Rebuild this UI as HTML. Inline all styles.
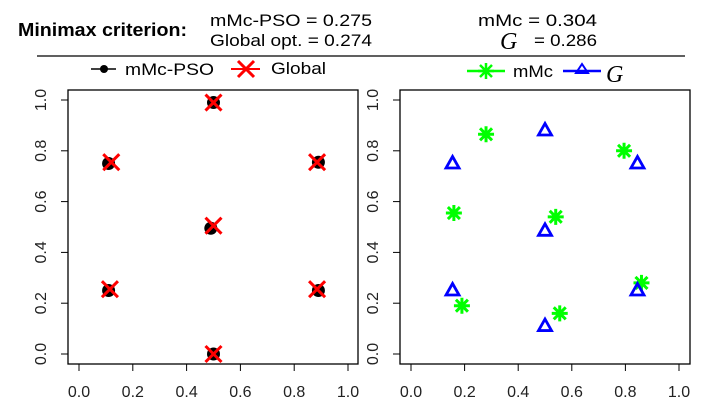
<!DOCTYPE html>
<html><head><meta charset="utf-8"><style>
body{margin:0;background:#fff}
svg{display:block;font-family:"Liberation Sans",sans-serif}
</style></head><body>
<svg id="c" width="709" height="419" viewBox="0 0 709 419">
<g font-size="17">
<text x="18" y="36" font-weight="bold" font-size="18" textLength="169" lengthAdjust="spacingAndGlyphs">Minimax criterion:</text>
<text x="210" y="26" textLength="162" lengthAdjust="spacingAndGlyphs">mMc-PSO  = 0.275</text>
<text x="210" y="46" textLength="162" lengthAdjust="spacingAndGlyphs">Global opt. = 0.274</text>
<text x="478" y="26" textLength="119" lengthAdjust="spacingAndGlyphs">mMc  = 0.304</text>
<text x="500" y="49" font-family="Liberation Serif,serif" font-style="italic" font-size="24">G</text>
<text x="534" y="46" textLength="63" lengthAdjust="spacingAndGlyphs">= 0.286</text>
<line x1="37" y1="56" x2="685" y2="56" stroke="#000" stroke-width="1.3"/>
</g>
<g font-size="17">
<line x1="91" y1="69" x2="116" y2="69" stroke="#000" stroke-width="1.5"/>
<circle cx="104" cy="69" r="4" fill="#000"/>
<text x="125" y="75" textLength="89" lengthAdjust="spacingAndGlyphs">mMc-PSO</text>
<line x1="231" y1="69" x2="260" y2="69" stroke="red" stroke-width="2"/>
<path d="M238 61L254 77M238 77L254 61" stroke="red" stroke-width="3"/>
<text x="271" y="74" textLength="55" lengthAdjust="spacingAndGlyphs">Global</text>
</g>
<g font-size="17">
<line x1="467" y1="71" x2="505" y2="71" stroke="#00ff00" stroke-width="2.5"/>
<path d="M486 63V79M478 71H494M480 65L492 77M480 77L492 65" stroke="#00ff00" stroke-width="2.5"/>
<text x="513" y="77" textLength="40" lengthAdjust="spacingAndGlyphs">mMc</text>
<line x1="563" y1="71" x2="601" y2="71" stroke="#0000ff" stroke-width="2.5"/>
<path d="M582 64L588 73H576Z" fill="none" stroke="#0000ff" stroke-width="2"/>
<text x="606" y="82" font-family="Liberation Serif,serif" font-style="italic" font-size="24">G</text>
</g>
<g id="p1"></g>
<g id="p2"></g>
</svg>
<script>
const psoX=[0.11,0.89,0.49,0.11,0.89,0.5,0.5];
const psoY=[0.75,0.755,0.495,0.25,0.25,0.99,0.0];
const globX=[0.12,0.885,0.5,0.115,0.885,0.5,0.5];
const globY=[0.755,0.755,0.505,0.255,0.255,0.99,0.0];
const mmcX=[0.28,0.795,0.16,0.54,0.86,0.19,0.555];
const mmcY=[0.865,0.8,0.555,0.54,0.28,0.19,0.16];
const gX=[0.5,0.155,0.845,0.5,0.155,0.845,0.5];
const gY=[0.88,0.75,0.75,0.485,0.25,0.25,0.11];
const ticks=[0,0.2,0.4,0.6,0.8,1.0];
const tickLabels=["0.0","0.2","0.4","0.6","0.8","1.0"];
const NS="http://www.w3.org/2000/svg";
function mk(p,t,a){const e=document.createElementNS(NS,t);for(const k in a)e.setAttribute(k,a[k]);p.appendChild(e);return e;}
function panel(g,box,x0,x1){
  const xs=v=>x0+v*(x1-x0), ys=v=>354+v*(100-354);
  const r=mk(g,'rect',{x:box[0],y:90,width:box[1]-box[0],height:274,fill:'none',stroke:'#000','stroke-width':1.3});
  
  
  mk(g,'line',{x1:xs(0),x2:xs(1),y1:364,y2:371-7,stroke:'#000'});
  mk(g,'line',{x1:box[0],x2:box[0],y1:ys(0),y2:ys(1),stroke:'#000'});
  ticks.forEach((t,i)=>{
    mk(g,'line',{x1:xs(t),x2:xs(t),y1:364,y2:371,stroke:'#000'});
    const tx=mk(g,'text',{x:xs(t),y:397,'text-anchor':'middle','font-size':16,fill:'#222'});tx.textContent=tickLabels[i];
    
    
    mk(g,'line',{x1:box[0],x2:box[0]-7,y1:ys(t),y2:ys(t),stroke:'#000'});
    const ty=mk(g,'text',{x:0,y:0,'text-anchor':'middle','font-size':16,fill:'#222',transform:`translate(${box[0]-22},${ys(t)}) rotate(-90)`});ty.textContent=tickLabels[i];
    
    
  });
  return [xs,ys];
}
const g1=document.getElementById('p1'),g2=document.getElementById('p2');
let [xa,ya]=panel(g1,[68,358],79,348);
psoX.forEach((v,i)=>{const c=mk(g1,'circle',{cx:xa(v),cy:ya(psoY[i]),r:6.5,fill:'#000'});

});
globX.forEach((v,i)=>{const x=xa(v),y=ya(globY[i]);const p=mk(g1,'path',{d:`M${x-8} ${y-8}L${x+8} ${y+8}M${x-8} ${y+8}L${x+8} ${y-8}`,stroke:'red','stroke-width':3});

});
[xa,ya]=panel(g2,[400,690],411,679);
mmcX.forEach((v,i)=>{const x=xa(v),y=ya(mmcY[i]);const p=mk(g2,'path',{d:`M${x} ${y-8}V${y+8}M${x-8} ${y}H${x+8}M${x-6} ${y-6}L${x+6} ${y+6}M${x-6} ${y+6}L${x+6} ${y-6}`,stroke:'#00ff00','stroke-width':3});

});
gX.forEach((v,i)=>{const x=xa(v),y=ya(gY[i]);const p=mk(g2,'path',{d:`M${x} ${y-7}L${x+6.5} ${y+4.5}H${x-6.5}Z`,fill:'none',stroke:'#0000ff','stroke-width':2.8});

});
</script>
</body></html>
